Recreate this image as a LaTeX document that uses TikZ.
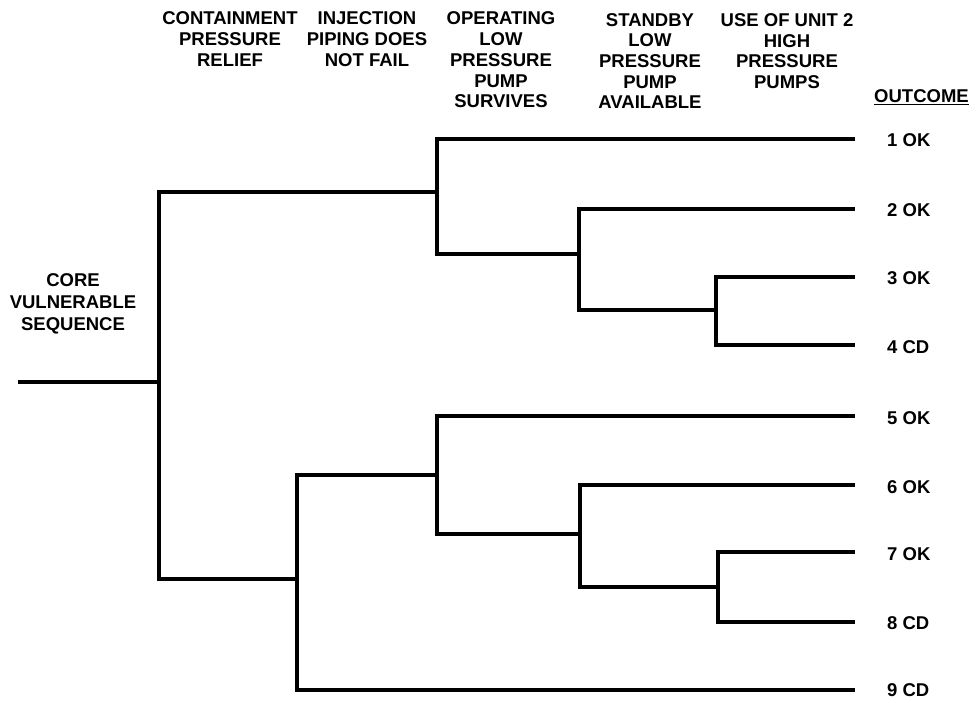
\documentclass[tikz,border=0pt]{standalone}
\usepackage{fontspec}
\setmainfont{Liberation Sans}
\begin{document}
\begin{tikzpicture}[x=1pt,y=-1pt,
  branch/.style={line width=3.1pt,line join=miter},
  lbl/.style={font=\fontsize{18.5}{20.7}\selectfont\bfseries,align=center,inner sep=0pt},
  outc/.style={font=\fontsize{18.5}{20.7}\selectfont\bfseries,anchor=west,inner sep=0pt}]
\useasboundingbox (0,0) rectangle (976,702);
% headers
\node[lbl] (h1) at (230,39) {CONTAINMENT\\PRESSURE\\RELIEF};
\node[lbl] (h2) at (367,39) {INJECTION\\PIPING DOES\\NOT FAIL};
\node[lbl] (h3) at (501,60) {OPERATING\\LOW\\PRESSURE\\PUMP\\SURVIVES};
\node[lbl] (h4) at (650,61) {STANDBY\\LOW\\PRESSURE\\PUMP\\AVAILABLE};
\node[lbl] (h5) at (787,51) {USE OF UNIT 2\\HIGH\\PRESSURE\\PUMPS};
\node[outc] (h6) at (874,97) {\underline{OUTCOME}};
\node[lbl,font=\fontsize{18.5}{22}\selectfont\bfseries] (core) at (73,304) {CORE\\VULNERABLE\\SEQUENCE};
% tree coordinates
\coordinate (s0) at (18,382);
\coordinate (j0) at (159,382);
\coordinate (j1) at (437,192);
\coordinate (j2) at (579,254);
\coordinate (j3) at (716,310);
\coordinate (j4) at (297,579);
\coordinate (j5) at (437,475);
\coordinate (j6) at (580,534);
\coordinate (j7) at (718,587);
\coordinate (e1) at (855,139);
\coordinate (e2) at (855,209);
\coordinate (e3) at (855,277);
\coordinate (e4) at (855,345);
\coordinate (e5) at (855,416);
\coordinate (e6) at (855,485);
\coordinate (e7) at (855,552);
\coordinate (e8) at (855,622);
\coordinate (e9) at (855,690);
\draw[branch] (s0) -- (j0);
\draw[branch] (j1) -| (j0) |- (j4);
\draw[branch] (e1) -| (j1) |- (j2);
\draw[branch] (e2) -| (j2) |- (j3);
\draw[branch] (e3) -| (j3) |- (e4);
\draw[branch] (j5) -| (j4) |- (e9);
\draw[branch] (e5) -| (j5) |- (j6);
\draw[branch] (e6) -| (j6) |- (j7);
\draw[branch] (e7) -| (j7) |- (e8);
% outcomes
\node[outc] (o1) at (887,140) {1 OK};
\node[outc] (o2) at (887,210) {2 OK};
\node[outc] (o3) at (887,278) {3 OK};
\node[outc] (o4) at (887,347) {4 CD};
\node[outc] (o5) at (887,418) {5 OK};
\node[outc] (o6) at (887,487) {6 OK};
\node[outc] (o7) at (887,554) {7 OK};
\node[outc] (o8) at (887,623) {8 CD};
\node[outc] (o9) at (887,690) {9 CD};
\end{tikzpicture}
\end{document}
